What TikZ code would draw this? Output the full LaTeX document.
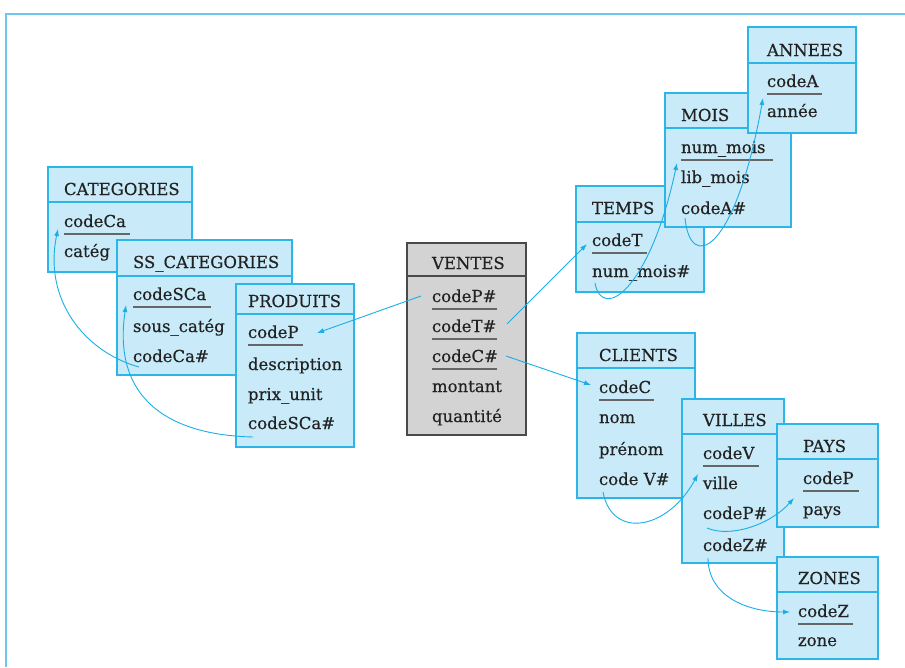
\documentclass[tikz,border=0pt]{standalone}
\usepackage{fontspec}
\setmainfont[FakeBold=0.4]{DejaVu Serif}
\usetikzlibrary{arrows.meta}

\definecolor{boxfill}{HTML}{C8EAF9}
\definecolor{boxline}{HTML}{2BB5E8}
\definecolor{factfill}{HTML}{D3D3D3}
\definecolor{factline}{HTML}{4A4A4A}
\definecolor{ink}{HTML}{222222}
\definecolor{keygray}{HTML}{666666}
\definecolor{linkcol}{HTML}{1AAEE6}
\definecolor{framecol}{HTML}{6CC8EE}

% table body with its header rule: name, x, y, width, height, header height, style
\newcommand\erdtable[7]{%
  \node[#7, anchor=north west, minimum width=#4pt, minimum height=#5pt] (#1) at (#2,#3) {};
  \draw[#7, fill=none] ([yshift=-#6pt]#1.north west) -- ([yshift=-#6pt]#1.north east);}
% underline of a key attribute: field node, length
\newcommand\keymark[2]{%
  \draw[keyrule] ([shift={(0,7)}]#1.base west) -- ([shift={(#2,7)}]#1.base west);}

\begin{document}
\begin{tikzpicture}[x=1pt,y=-1pt,
  dim/.style={draw=boxline, fill=boxfill, line width=1.4pt, inner sep=0pt, outer sep=0pt},
  fact/.style={draw=factline, fill=factfill, line width=1.4pt, inner sep=0pt, outer sep=0pt},
  fld/.style={anchor=base west, inner sep=0pt, outer sep=0pt, text=ink,
              font=\fontsize{16.5}{20}\selectfont},
  keyrule/.style={draw=keygray, line width=1.3pt},
  fk/.style={draw=linkcol, line width=0.9pt, -{Latex[length=7pt,width=5pt]}},
  framing/.style={draw=framecol, line width=1.6pt}]

\useasboundingbox (0,0) rectangle (905,667);
\draw[framing] (905,14) -- (6,14) -- (6,667);

% ---- product dimension
\erdtable{cat}{48}{167}{144}{105}{35}{dim}
\node[fld] (catT) at (64,195) {CATEGORIES};
\node[fld] (cC) at (64,227) {codeCa};
\node[fld] (cG) at (64,257) {catég};
\keymark{cC}{66}

\erdtable{ssc}{117}{240}{175}{135}{36}{dim}
\node[fld] (sscT) at (133,268) {SS\_CATEGORIES};
\node[fld] (sS) at (133,300) {codeSCa};
\node[fld] (sL) at (133,332) {sous\_catég};
\node[fld] (sC) at (133,362) {codeCa\#};
\keymark{sS}{78}

\erdtable{prod}{236}{284}{118}{163}{30}{dim}
\node[fld] (prodT) at (248,307) {PRODUITS};
\node[fld] (pP) at (248,338) {codeP};
\node[fld] (pD) at (248,370) {description};
\node[fld] (pX) at (248,400) {prix\_unit};
\node[fld] (pS) at (248,429) {codeSCa\#};
\keymark{pP}{55}

% ---- fact table
\erdtable{ventes}{407}{243}{119}{192}{33}{fact}
\node[fld] (ventesT) at (432,269) {VENTES};
\node[fld] (vP) at (432,302) {codeP\#};
\node[fld] (vT) at (432,332) {codeT\#};
\node[fld] (vC) at (432,362) {codeC\#};
\node[fld] (vM) at (432,392) {montant};
\node[fld] (vQ) at (432,422) {quantité};
\keymark{vP}{65}
\keymark{vT}{65}
\keymark{vC}{65}

% ---- time dimension
\erdtable{temps}{576}{186}{128}{106}{36}{dim}
\node[fld] (tempsT) at (592,214) {TEMPS};
\node[fld] (tT) at (592,246) {codeT};
\node[fld] (tN) at (592,277) {num\_mois\#};
\keymark{tT}{55}

\erdtable{mois}{665}{93}{126}{134}{35}{dim}
\node[fld] (moisT) at (681,121) {MOIS};
\node[fld] (mN) at (681,153) {num\_mois};
\node[fld] (mL) at (681,183) {lib\_mois};
\node[fld] (mA) at (681,214) {codeA\#};
\keymark{mN}{92}

\erdtable{annees}{748}{27}{108}{106}{36}{dim}
\node[fld] (anneesT) at (767,56) {ANNEES};
\node[fld] (aA) at (767,87) {codeA};
\node[fld] (aN) at (767,117) {année};
\keymark{aA}{55}

% ---- customer dimension
\erdtable{clients}{577}{333}{118}{165}{35}{dim}
\node[fld] (clientsT) at (599,361) {CLIENTS};
\node[fld] (kC) at (599,393) {codeC};
\node[fld] (kN) at (599,423) {nom};
\node[fld] (kP) at (599,455) {prénom};
\node[fld] (kV) at (599,485) {code V\#};
\keymark{kC}{55}

\erdtable{villes}{682}{399}{102}{164}{35}{dim}
\node[fld] (villesT) at (703,426) {VILLES};
\node[fld] (lV) at (703,459) {codeV};
\node[fld] (lN) at (703,489) {ville};
\node[fld] (lP) at (703,519) {codeP\#};
\node[fld] (lZ) at (703,551) {codeZ\#};
\keymark{lV}{56}

\erdtable{pays}{777}{424}{101}{103}{35}{dim}
\node[fld] (paysT) at (803,452) {PAYS};
\node[fld] (yP) at (803,484) {codeP};
\node[fld] (yN) at (803,515) {pays};
\keymark{yP}{56}

\erdtable{zones}{777}{557}{101}{102}{35}{dim}
\node[fld] (zonesT) at (798,584) {ZONES};
\node[fld] (zZ) at (798,617) {codeZ};
\node[fld] (zN) at (798,646) {zone};
\keymark{zZ}{55}

% ---- foreign key references
\draw[fk] ([shift={(-11,-6)}]vP.base west) -- ([shift={(69,-5)}]pP.base west);
\draw[fk] ([shift={(75,-8)}]vT.base west) -- ([shift={(-5,-2)}]tT.base west);
\draw[fk] ([shift={(74,-6)}]vC.base west) -- ([shift={(-8,-8)}]kC.base west);
\draw[fk] ([shift={(6,5)}]sC.base west) .. controls +(-54,-15) and +(-15,71) .. ([shift={(-6,2)}]cC.base west);
\draw[fk] ([shift={(5,8)}]pS.base west) .. controls +(-83,-2) and +(-14,95) .. ([shift={(-7,5)}]sS.base west);
\draw[fk] ([shift={(3,6)}]tN.base west) .. controls +(7,39) and +(-27,127) .. ([shift={(-4,10)}]mN.base west);
\draw[fk] ([shift={(4,4)}]mA.base west) .. controls +(5,54) and +(-28,157) .. ([shift={(-4,11)}]aA.base west);
\draw[fk] ([shift={(4,7)}]kV.base west) .. controls +(9,48) and +(-30,56) .. ([shift={(-5,15)}]lV.base west);
\draw[fk] ([shift={(4,9)}]lP.base west) .. controls +(23,10) and +(-24,27) .. ([shift={(-9,14)}]yP.base west);
\draw[fk] ([shift={(5,7)}]lZ.base west) .. controls +(0,37) and +(-45,0) .. ([shift={(-8,-5)}]zZ.base west);

\end{tikzpicture}
\end{document}
